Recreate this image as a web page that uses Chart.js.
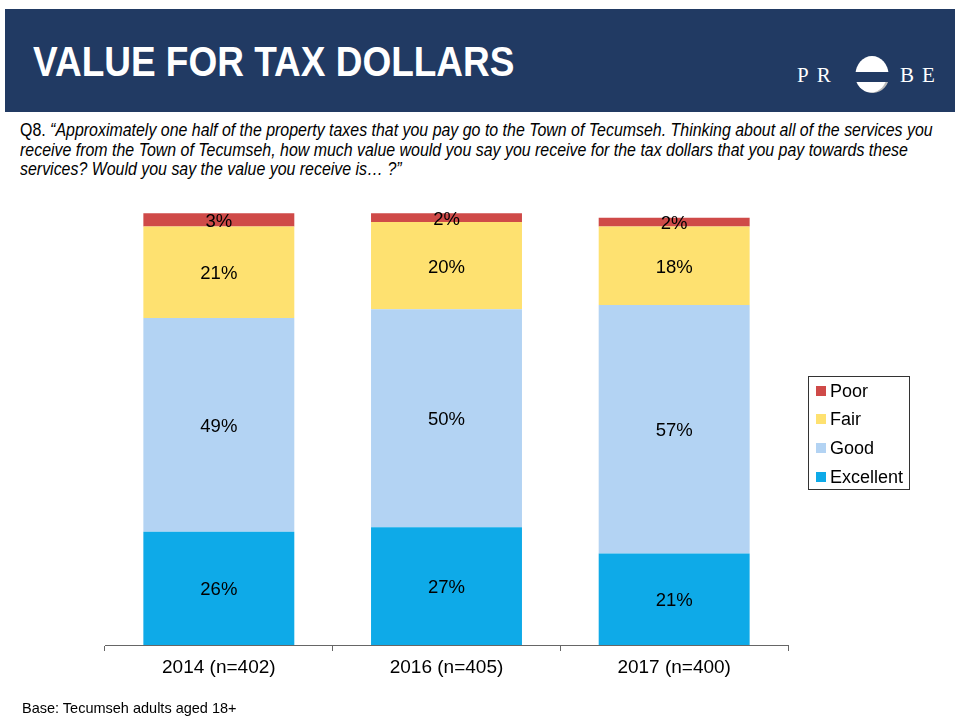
<!DOCTYPE html>
<html>
<head>
<meta charset="utf-8">
<script src="https://cdn.jsdelivr.net/npm/chart.js@4.4.0/dist/chart.umd.min.js"></script>
<style>
  body { margin: 0; background: #fff; }
  #page { position: relative; width: 955px; height: 717px; overflow: hidden; font-family: "Liberation Sans", Arial, sans-serif; }
  #banner { position: absolute; left: 5px; top: 9px; width: 950px; height: 103px; background: #213a63; }
  #title { position: absolute; left: 33px; top: 37px; color: #fff; font-weight: bold; font-size: 43px; white-space: nowrap; transform: scaleX(0.86); transform-origin: 0 0; }
  #logo { position: absolute; left: 790px; top: 56px; width: 165px; height: 40px; }
  #question { position: absolute; left: 20px; top: 121px; font-size: 18px; line-height: 19.5px; color: #000; white-space: nowrap; transform: scaleX(0.885); transform-origin: 0 0; }
  #chartBox { position: absolute; left: 0; top: 0; width: 955px; height: 717px; }
  #legend { position: absolute; left: 808px; top: 376px; width: 100px; height: 112px; border: 1px solid #333; }
  .item { position: absolute; left: 7px; height: 22px; font-size: 18px; line-height: 22px; color: #000; white-space: nowrap; }
  .sw { display: inline-block; width: 10px; height: 10px; margin-right: 4px; vertical-align: 1px; }
  #base { position: absolute; left: 22px; top: 700px; font-size: 14.5px; color: #000; }
</style>
</head>
<body>
<div id="page">
  <div id="banner"></div>
  <div id="title">VALUE FOR TAX DOLLARS</div>
  <svg id="logo" viewBox="0 0 165 40">
    <defs>
      <clipPath id="lower"><rect x="55" y="26" width="50" height="20"/></clipPath>
      <clipPath id="upper"><rect x="55" y="-5" width="50" height="21"/></clipPath>
    </defs>
    <text x="7" y="26" fill="#fff" font-family="Liberation Serif, serif" font-size="21" letter-spacing="8">PR</text>
    <ellipse cx="82" cy="18.5" rx="16.5" ry="18.5" fill="#fff" clip-path="url(#upper)"/>
    <g clip-path="url(#lower)">
      <ellipse cx="83" cy="18.5" rx="16.5" ry="18.5" fill="#b9b9b9"/>
      <ellipse cx="81" cy="18.5" rx="16" ry="18" fill="#fff"/>
    </g>
    <text x="110" y="26" fill="#fff" font-family="Liberation Serif, serif" font-size="21" letter-spacing="8">BE</text>
  </svg>
  <div id="question">Q8. <i>“Approximately one half of the property taxes that you pay go to the Town of Tecumseh. Thinking about all of the services you<br>receive from the Town of Tecumseh, how much value would you say you receive for the tax dollars that you pay towards these<br>services? Would you say the value you receive is… ?”</i></div>
  <div id="chartBox"><canvas id="valueChart"></canvas></div>
  <div id="legend"></div>
  <div id="base">Base: Tecumseh adults aged 18+</div>
</div>
<script>
var categories = ["2014 (n=402)", "2016 (n=405)", "2017 (n=400)"];
var excellent = [26, 27, 21];
var good = [49, 50, 57];
var fair = [21, 20, 18];
var poor = [3, 2, 2];
var seriesNames = ["Excellent", "Good", "Fair", "Poor"];
var seriesColors = ["#0eaae8", "#b3d3f3", "#fee170", "#cf4a48"];

var seriesValues = [excellent, good, fair, poor];
var datasets = [];
for (var i = 0; i < seriesNames.length; i++) {
    datasets.push({
        label: seriesNames[i],
        data: seriesValues[i],
        backgroundColor: seriesColors[i],
        borderWidth: 0,
        barPercentage: 0.663,
        categoryPercentage: 1
    });
}

// legend, Poor on top
var legendHtml = "";
var rowTops = [3, 31, 60, 89];
for (var j = seriesNames.length - 1, r = 0; j >= 0; j--, r++) {
    legendHtml += '<div class="item" style="top:' + rowTops[r] + 'px"><span class="sw" style="background:' + seriesColors[j] + '"></span>' + seriesNames[j] + '</div>';
}
document.getElementById("legend").innerHTML = legendHtml;

// percent labels in the middle of each segment
var segmentLabels = {
    id: "segmentLabels",
    afterDatasetsDraw: function(chart) {
        var ctx = chart.ctx;
        ctx.save();
        ctx.font = "18.5px 'Liberation Sans', Arial, sans-serif";
        ctx.fillStyle = "#000";
        ctx.textAlign = "center";
        ctx.textBaseline = "middle";
        chart.data.datasets.forEach(function(ds, di) {
            chart.getDatasetMeta(di).data.forEach(function(bar, k) {
                var mid = (bar.y + bar.base) / 2;
                ctx.fillText(ds.data[k] + "%", bar.x, mid + 2);
            });
        });
        ctx.restore();
    }
};

var ctx = document.getElementById("valueChart").getContext("2d");
new Chart(ctx, {
    type: "bar",
    data: { labels: categories, datasets: datasets },
    options: {
        responsive: true,
        maintainAspectRatio: false,
        animation: false,
        layout: { padding: { left: 105, right: 167, top: 209, bottom: 32 } },
        plugins: { legend: { display: false }, tooltip: { enabled: false } },
        scales: {
            x: {
                stacked: true,
                afterFit: function(scale) { scale.height = 40; },
                grid: { offset: true, drawOnChartArea: false, drawTicks: true, tickLength: 6, color: "#666" },
                border: { display: true, color: "#666", width: 1 },
                ticks: { color: "#000", padding: 5, font: { size: 19, family: "'Liberation Sans', Arial, sans-serif" } }
            },
            y: {
                stacked: true,
                display: false,
                min: 0,
                max: 100
            }
        }
    },
    plugins: [segmentLabels]
});
</script>
</body>
</html>
